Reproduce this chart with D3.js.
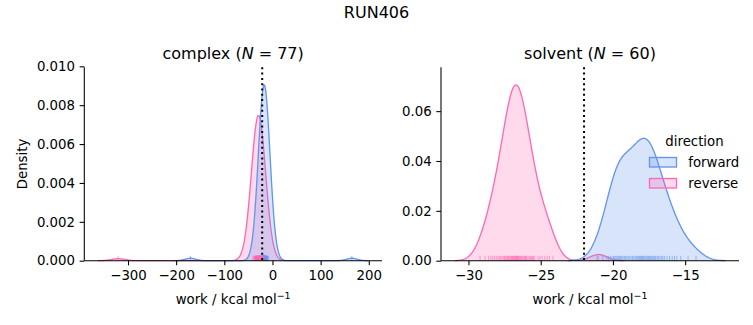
<!DOCTYPE html>
<html><head><meta charset="utf-8">
<script src="https://cdn.jsdelivr.net/npm/d3@7"></script>
<style>
body{margin:0;background:#fff}
svg{display:block}
text{font-family:"DejaVu Sans",sans-serif;fill:#000}
</style>
</head><body>
<svg id="c" width="753" height="325"></svg>
<script>
// ---------------- data ----------------
const figureTitle = "RUN406";
const directions = ["forward", "reverse"];
const directionColors = ["#6495ED", "#FF69B4"];
const phases = ["complex", "solvent"];

const complexForward = [
  -25.9,-24.4,-23.6,-23.1,-22.6,-22.3,-22.0,-21.7,-21.4,-21.2,
  -21.0,-20.8,-20.6,-20.4,-20.2,-20.1,-19.9,-19.7,-19.6,-19.5,
  -19.3,-19.2,-19.0,-18.9,-18.8,-18.6,-18.5,-18.4,-18.3,-18.1,
  -18.0,-17.9,-17.8,-17.7,-17.6,-17.4,-17.3,-17.2,-17.1,-17.0,
  -16.8,-16.7,-16.6,-16.5,-16.4,-16.3,-16.1,-16.0,-15.9,-15.8,
  -15.6,-15.5,-15.4,-15.2,-15.1,-14.9,-14.8,-14.7,-14.5,-14.3,
  -14.2,-14.0,-13.8,-13.6,-13.4,-13.2,-13.0,-12.7,-12.4,-12.1,
  -11.8,-11.3,-10.8,-10.0,-8.5,-170.3,164.8
];
const complexReverse = [
  -40.4,-38.4,-37.4,-36.7,-36.2,-35.7,-35.3,-34.9,-34.6,-34.3,
  -34.0,-33.7,-33.4,-33.2,-33.0,-32.8,-32.6,-32.3,-32.2,-32.0,
  -31.8,-31.6,-31.4,-31.2,-31.1,-30.9,-30.7,-30.6,-30.4,-30.2,
  -30.1,-29.9,-29.8,-29.6,-29.5,-29.3,-29.2,-29.0,-28.8,-28.7,
  -28.6,-28.5,-28.4,-28.2,-28.1,-27.9,-27.8,-27.6,-27.4,-27.3,
  -27.1,-26.9,-26.8,-26.6,-26.4,-26.2,-26.0,-25.8,-25.7,-25.4,
  -25.2,-25.0,-24.8,-24.6,-24.3,-24.0,-23.7,-23.4,-23.1,-22.7,
  -22.3,-21.8,-21.3,-20.6,-19.6,-17.6,-320.5
];
const solventForward = [
  -21.1,-20.7,
  -20.42,-20.3,-20.18,-20.06,
  -19.96,-19.88,-19.8,-19.72,-19.65,-19.58,-19.52,
  -19.46,-19.38,-19.3,-19.21,-19.12,-19.04,
  -18.94,-18.84,-18.74,-18.64,-18.55,
  -18.46,-18.39,-18.31,-18.24,-18.16,-18.09,-18.02,
  -17.97,-17.91,-17.85,-17.78,-17.71,-17.64,-17.58,-17.52,
  -17.46,-17.39,-17.31,-17.24,-17.17,-17.1,-17.03,
  -16.93,-16.84,-16.73,-16.62,-16.54,
  -16.42,-16.25,-16.08,
  -15.9,-15.74,-15.58,
  -15.3,-14.8,-14.25
];
const solventReverse = [
  -29.2,-28.85,-28.6,-28.45,-28.33,-28.2,-28.07,
  -27.95,-27.86,-27.77,-27.68,-27.6,-27.52,
  -27.47,-27.41,-27.35,-27.29,-27.23,-27.17,-27.11,-27.06,-27.01,
  -26.97,-26.93,-26.89,-26.84,-26.8,-26.76,-26.72,-26.68,-26.66,-26.63,-26.59,-26.55,-26.51,
  -26.46,-26.4,-26.34,-26.28,-26.22,-26.16,-26.1,-26.05,-26.01,
  -25.95,-25.87,-25.79,-25.71,-25.63,-25.56,-25.51,
  -25.42,-25.18,-25.05,-24.9,-24.72,-24.55,-24.4,-24.15,
  -21.0
];
const estimates = [-21.3, -22.0];   // dotted reference lines (complex, solvent)
const complexXTicks = [-300, -200, -100, 0, 100, 200];
const complexYTicks = [0, 0.002, 0.004, 0.006, 0.008, 0.010];
const solventXTicks = [-30, -25, -20, -15];
const solventYTicks = [0, 0.02, 0.04, 0.06];
const xLabel = "work / kcal mol";
const yLabel = "Density";
const legendTitle = "direction";

// ---------------- helpers ----------------
const svg = d3.select("#c");
const totalN = complexForward.length + complexReverse.length + solventForward.length + solventReverse.length;
const TICK = 4.67, PAD = 4.67, FS = 13.3;

function kde(data) {
  const n = data.length;
  const bw = d3.deviation(data) * Math.pow(n, -0.2);
  const lo = d3.min(data) - 3 * bw, hi = d3.max(data) + 3 * bw;
  const pts = [];
  for (let i = 0; i < 200; i++) {
    const x = lo + (hi - lo) * i / 199;
    let s = 0;
    for (const v of data) { const z = (x - v) / bw; s += Math.exp(-0.5 * z * z); }
    pts.push([x, s / (n * bw * Math.sqrt(2 * Math.PI)) * n / totalN]);
  }
  return pts;
}

function panel(opt) {
  const {x0, x1, y0, y1, groups, xticks, yticks, yfmt, title, N, est, showYLabel} = opt;
  const curves = groups.map(kde);
  const allX = curves.flat().map(d => d[0]);
  const xmin = d3.min(allX), xmax = d3.max(allX), m = (xmax - xmin) * 0.05;
  const ymax = d3.max(curves.flat(), d => d[1]) * 1.1;
  const x = d3.scaleLinear().domain([xmin - m, xmax + m]).range([x0, x1]);
  const y = d3.scaleLinear().domain([0, ymax]).range([y1, y0]);
  const g = svg.append("g");

  // densities: reverse drawn first, forward on top
  const area = d3.area().x(d => x(d[0])).y0(y(0)).y1(d => y(d[1]));
  const line = d3.line().x(d => x(d[0])).y(d => y(d[1]));
  [1, 0].forEach(k => {
    g.append("path").attr("d", area(curves[k]))
      .attr("fill", directionColors[k]).attr("fill-opacity", 0.25).attr("stroke", "none");
    g.append("path").attr("d", line(curves[k]))
      .attr("fill", "none").attr("stroke", directionColors[k]).attr("stroke-width", 1.33);
  });
  // rug
  const rh = (y1 - y0) * 0.025;
  [0, 1].forEach(k => {
    g.append("g").selectAll("line").data(groups[k]).join("line")
      .attr("x1", d => x(d)).attr("x2", d => x(d))
      .attr("y1", y(0)).attr("y2", y(0) - rh)
      .attr("stroke", directionColors[k]).attr("stroke-width", 1).attr("stroke-opacity", 0.6);
  });
  // dotted estimate line
  g.append("line").attr("x1", x(est)).attr("x2", x(est)).attr("y1", y0).attr("y2", y1)
    .attr("stroke", "#000").attr("stroke-width", 2).attr("stroke-dasharray", "2,3.3");

  // axes
  const ax = g.append("g").attr("transform", `translate(0,${y1})`)
    .call(d3.axisBottom(x).tickValues(xticks).tickSize(TICK).tickPadding(PAD).tickSizeOuter(0)
      .tickFormat(d3.format("d")));
  const ay = g.append("g").attr("transform", `translate(${x0},0)`)
    .call(d3.axisLeft(y).tickValues(yticks).tickSize(TICK).tickPadding(PAD).tickSizeOuter(0)
      .tickFormat(d3.format(yfmt)));
  [ax, ay].forEach(a => {
    a.attr("font-size", null).attr("font-family", null);
    a.selectAll("text").style("font-size", FS + "px").attr("fill", "#000");
    a.selectAll("line,path").attr("stroke", "#000").attr("stroke-width", 1.07);
  });
  ax.selectAll("text").attr("dy", null).attr("y", TICK + PAD + 9.8);
  ax.select(".domain").attr("d", `M${x0},0H${x1}`);
  ay.select(".domain").attr("d", `M0,${y0}V${y1}`);

  // title
  const t = g.append("text").attr("x", (x0 + x1) / 2).attr("y", 59)
    .attr("text-anchor", "middle").style("font-size", "16px");
  t.append("tspan").text(title + " (");
  t.append("tspan").attr("font-style", "italic").text("N");
  t.append("tspan").text(" = " + N + ")");

  // x label
  const xl = g.append("text").attr("x", (x0 + x1) / 2).attr("y", 304)
    .attr("text-anchor", "middle").style("font-size", FS + "px");
  xl.append("tspan").text(xLabel);
  xl.append("tspan").attr("dy", -5).style("font-size", "9.5px").text("\u22121");

  if (showYLabel) {
    g.append("text").attr("transform", `translate(26.5,${(y0 + y1) / 2}) rotate(-90)`)
      .attr("text-anchor", "middle").style("font-size", FS + "px").text(yLabel);
  }
}

svg.append("text").attr("x", 376.5).attr("y", 18.3).attr("text-anchor", "middle")
  .style("font-size", "16px").text(figureTitle);

panel({x0: 84.3, x1: 382, y0: 67.3, y1: 260.7, groups: [complexForward, complexReverse],
  xticks: complexXTicks, yticks: complexYTicks, yfmt: ".3f", title: phases[0],
  N: complexForward.length, est: estimates[0], showYLabel: true});
panel({x0: 441, x1: 739, y0: 67.3, y1: 260.7, groups: [solventForward, solventReverse],
  xticks: solventXTicks, yticks: solventYTicks, yfmt: ".2f", title: phases[1],
  N: solventForward.length, est: estimates[1], showYLabel: false});

// legend
const lg = svg.append("g");
lg.append("text").attr("x", 694.5).attr("y", 146).attr("text-anchor", "middle")
  .style("font-size", FS + "px").text(legendTitle);
directions.forEach((d, i) => {
  const yy = 157.5 + i * 21;
  lg.append("rect").attr("x", 649.5).attr("y", yy).attr("width", 27).attr("height", 9.5)
    .attr("fill", directionColors[i]).attr("fill-opacity", 0.25)
    .attr("stroke", directionColors[i]).attr("stroke-width", 1.33);
  lg.append("text").attr("x", 688.3).attr("y", yy + 9).style("font-size", FS + "px").text(d);
});
</script>
</body></html>
